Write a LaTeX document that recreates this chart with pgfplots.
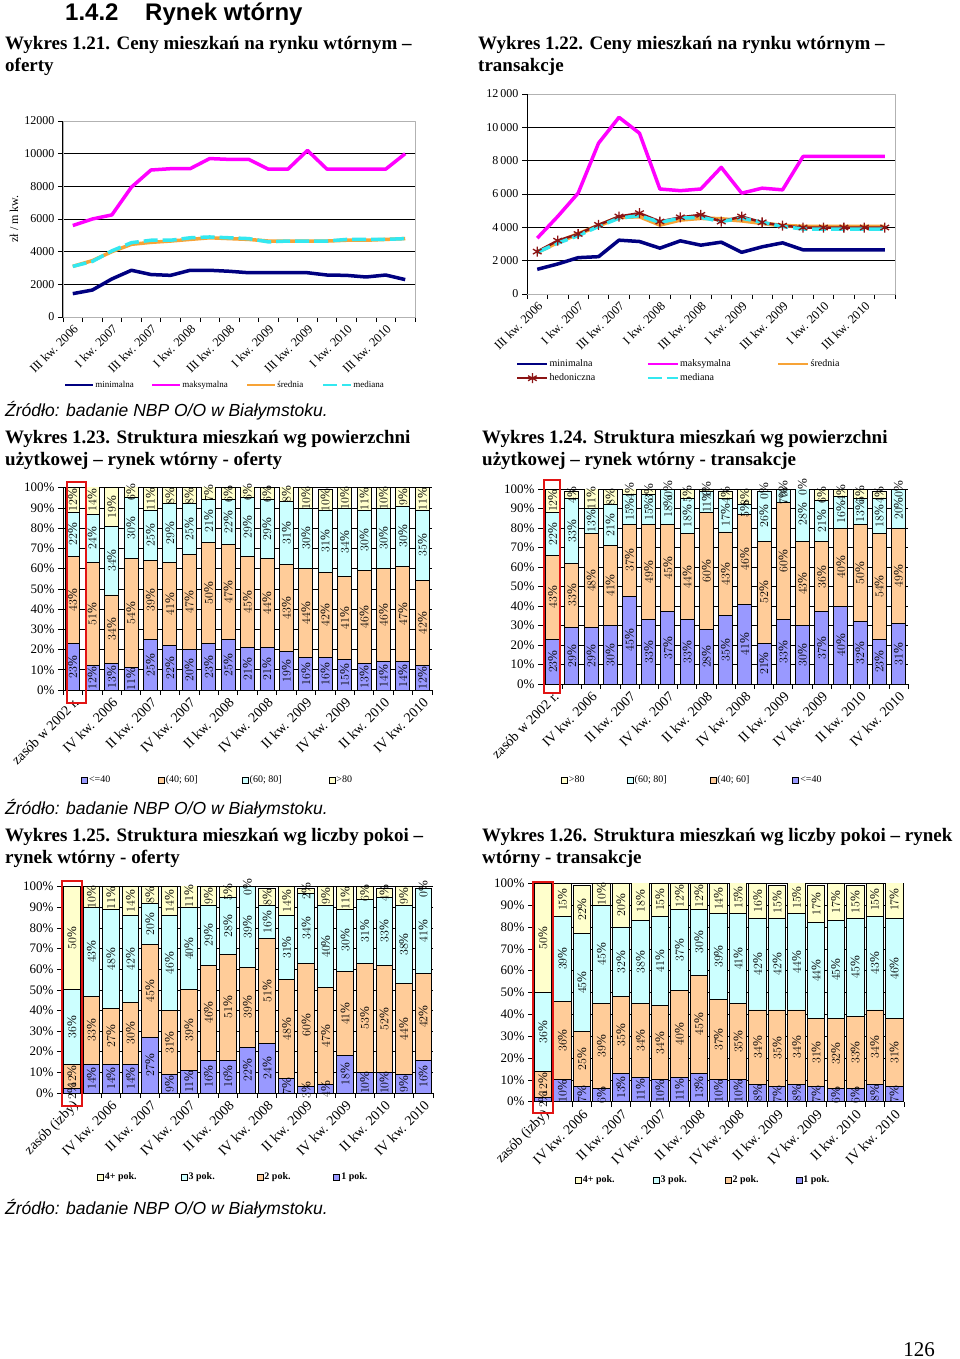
\documentclass[border=0pt]{standalone}
\usepackage{fontspec}
\setmainfont{Liberation Serif}
\newfontfamily\arial{Liberation Sans}
\usepackage{pgfplots}
\usepackage{pgfplotstable}
\pgfplotsset{compat=1.18}

\definecolor{cnavy}{RGB}{0,0,128}
\definecolor{cmag}{RGB}{255,0,255}
\definecolor{corng}{RGB}{247,163,54}
\definecolor{ccyan}{RGB}{51,232,240}
\definecolor{ched}{RGB}{140,20,20}
\definecolor{cP}{RGB}{153,153,255}
\definecolor{cO}{RGB}{255,204,153}
\definecolor{cC}{RGB}{204,255,255}
\definecolor{cY}{RGB}{255,255,204}
\definecolor{cRed}{RGB}{225,20,20}

\pgfplotstableread{
x mn mx sr md
0 1430 5600 3100 3100
1 1650 6000 3450 3400
2 2330 6250 4000 4050
3 2860 7950 4450 4550
4 2600 9000 4570 4700
5 2550 9080 4650 4700
6 2860 9080 4750 4850
7 2860 9700 4850 4900
8 2800 9650 4800 4850
9 2710 9650 4750 4800
10 2710 9050 4650 4600
11 2710 9050 4650 4650
12 2710 10200 4650 4650
13 2570 9050 4650 4650
14 2550 9050 4700 4750
15 2450 9050 4700 4750
16 2570 9050 4750 4750
17 2290 10000 4800 4800
}\tA

\pgfplotstableread{
x mn mx sr hd md
0 1480 3350 2500 2545 2500
1 1800 4650 3100 3200 3050
2 2180 6050 3600 3600 3500
3 2240 9050 4100 4150 4050
4 3230 10600 4600 4650 4550
5 3150 9650 4650 4850 4700
6 2750 6300 4150 4350 4300
7 3190 6200 4450 4600 4550
8 2930 6300 4550 4750 4600
9 3110 7600 4500 4350 4350
10 2500 6050 4400 4650 4550
11 2830 6350 4250 4300 4300
12 3070 6250 4100 4100 4050
13 2650 8250 4050 3990 3900
14 2650 8250 4050 3990 3900
15 2650 8250 4050 3990 3900
16 2650 8250 4050 3990 3900
17 2650 8250 4050 3990 3900
}\tB

\pgfplotstableread{
x a b c d
0 23 43 22 12
1 12 51 24 14
2 13 34 34 19
3 11 54 30 6
4 25 39 25 11
5 22 41 29 8
6 20 47 25 8
7 23 50 21 7
8 25 47 22 6
9 21 45 29 6
10 21 44 29 6
11 19 43 31 8
12 16 44 30 10
13 16 42 31 10
14 15 41 34 10
15 13 46 30 11
16 14 46 30 10
17 14 47 30 9
18 12 42 35 11
}\tC

\pgfplotstableread{
x a b c d
0 23 43 22 12
1 29 33 33 4
2 29 48 13 11
3 30 41 21 8
4 45 37 15 4
5 33 49 15 3
6 37 45 18 0
7 33 44 18 5
8 28 60 11 1
9 35 43 17 4
10 41 46 5 8
11 21 52 26 0
12 33 60 7 0
13 30 43 28 0
14 37 36 21 6
15 40 40 16 4
16 32 50 13 5
17 23 54 18 4
18 31 49 20 0
}\tD

\pgfplotstableread{
x a b c d
0 2 12 36 50
1 14 33 43 10
2 14 27 48 11
3 14 30 42 14
4 27 45 20 8
5 9 31 46 14
6 11 39 40 11
7 16 46 29 9
8 16 51 28 5
9 22 39 39 0
10 24 51 16 8
11 7 48 31 14
12 3 60 34 2
13 4 47 40 9
14 18 41 30 11
15 10 53 31 6
16 10 52 33 4
17 9 44 38 9
18 16 42 41 0
}\tE

\pgfplotstableread{
x a b c d
0 2 12 36 50
1 10 36 39 15
2 7 25 45 22
3 6 39 45 10
4 13 35 32 20
5 11 34 38 18
6 10 34 41 15
7 11 40 37 12
8 13 45 30 12
9 10 37 39 14
10 10 35 41 15
11 8 34 42 16
12 7 35 42 15
13 8 34 44 15
14 7 31 44 17
15 6 32 45 17
16 6 33 45 15
17 8 34 43 15
18 7 31 46 17
}\tF

\pgfplotsset{
  linechart/.style={
    scale only axis, anchor=north west, clip=false,
    xmin=-0.5, xmax=17.5, ymin=0, ymax=12000,
    scaled y ticks=false,
    ytick={0,2000,4000,6000,8000,10000,12000},
    xtick={0,2,4,6,8,10,12,14,16},
    xticklabels={III kw. 2006, I kw. 2007, III kw. 2007, I kw. 2008, III kw. 2008, I kw. 2009, III kw. 2009, I kw. 2010, III kw. 2010},
    minor xtick={-0.5,0.5,...,17.5},
    major x tick style={draw=none},
    tick align=outside, tick pos=left,
    major tick length=5pt, minor tick length=5pt,
    tick style={black, line width=0.6pt},
    ymajorgrids, grid style={black, line width=0.9pt},
    axis line style={gray!60, line width=0.8pt},
    x tick label style={rotate=45, anchor=north east, inner sep=1pt, font=\fontsize{12.5}{12.5}\selectfont},
    y tick label style={font=\fontsize{12}{12}\selectfont},
    legend style={draw=none, fill=none, inner sep=0pt, nodes={inner sep=1pt}, cells={anchor=west}, anchor=west},
  },
  barchart/.style={
    scale only axis, anchor=north west, ybar stacked,
    xmin=-0.5, xmax=18.5, ymin=0, ymax=100,
    ytick={0,10,20,30,40,50,60,70,80,90,100},
    yticklabels={0\%,10\%,20\%,30\%,40\%,50\%,60\%,70\%,80\%,90\%,100\%},
    xtick={0,2,4,6,8,10,12,14,16,18},
    minor xtick={-0.5,0.5,...,18.5},
    major x tick style={draw=none},
    axis x line=bottom, axis y line=left, axis line style={-, black, line width=0.8pt},
    tick align=outside, major tick length=5pt, minor tick length=5pt,
    tick style={black, line width=0.6pt},
    ymajorgrids, grid style={black, line width=0.6pt},
    x tick label style={rotate=45, anchor=north east, inner sep=1pt, font=\fontsize{14}{14}\selectfont},
    y tick label style={font=\fontsize{13}{13}\selectfont},
    legend image code/.code={\draw[#1, draw=black, line width=0.8pt] (0pt,-3pt) rectangle (6pt,3pt);},
    legend style={draw=none, fill=none, inner sep=0pt, nodes={inner sep=1pt}, cells={anchor=west}, legend columns=4, font=\fontsize{10}{10}\selectfont, anchor=west},
  },
  barlabels/.style={scale only axis, anchor=north west, xmin=-0.5, xmax=18.5, ymin=0, ymax=100, hide axis, clip=false},
  lab/.style={draw=none, mark=none, nodes near coords={\pgfmathprintnumber{\pgfplotspointmeta}\%}, point meta=explicit,
    every node near coord/.style={rotate=90, anchor=center, inner sep=0pt, font=\fontsize{13}{13}\selectfont}},
  bseg/.style={fill=#1, draw=black, line width=0.8pt},
}

\begin{document}
\begin{tikzpicture}
\fill[white] (0pt,0pt) rectangle (960pt,-1359pt);
\path[use as bounding box] (0pt,0pt) rectangle (960pt,-1359pt);

% ---------- texts ----------
\node[anchor=base west, inner sep=0pt, font=\arial\bfseries\fontsize{24}{24}\selectfont] at (65pt,-21pt) {1.4.2};
\node[anchor=base west, inner sep=0pt, font=\arial\bfseries\fontsize{24}{24}\selectfont] at (145pt,-21pt) {Rynek wtórny};

\begin{scope}[every node/.style={anchor=base west, inner sep=0pt, font=\bfseries\fontsize{19}{22}\selectfont}]
\node at (5pt,-50pt) {Wykres 1.21. Ceny mieszkań na rynku wtórnym –};
\node at (5pt,-72pt) {oferty};
\node at (478pt,-50pt) {Wykres 1.22. Ceny mieszkań na rynku wtórnym –};
\node at (478pt,-72pt) {transakcje};
\node at (5pt,-443pt) {Wykres 1.23. Struktura mieszkań wg powierzchni};
\node at (5pt,-465pt) {użytkowej – rynek wtórny - oferty};
\node at (482pt,-443pt) {Wykres 1.24. Struktura mieszkań wg powierzchni};
\node at (482pt,-465pt) {użytkowej – rynek wtórny - transakcje};
\node at (5pt,-841pt) {Wykres 1.25. Struktura mieszkań wg liczby pokoi –};
\node at (5pt,-863pt) {rynek wtórny - oferty};
\node at (482pt,-841pt) {Wykres 1.26. Struktura mieszkań wg liczby pokoi – rynek};
\node at (482pt,-863pt) {wtórny - transakcje};
\end{scope}
\begin{scope}[every node/.style={anchor=base west, inner sep=0pt, font=\arial\itshape\fontsize{17.5}{20}\selectfont}]
\node at (5pt,-416pt) {Źródło: badanie NBP O/O w Białymstoku.};
\node at (5pt,-814pt) {Źródło: badanie NBP O/O w Białymstoku.};
\node at (5pt,-1214pt) {Źródło: badanie NBP O/O w Białymstoku.};
\end{scope}
\node[anchor=base east, inner sep=0pt, font=\fontsize{21}{21}\selectfont] at (935pt,-1356pt) {126};

% ---------- Wykres 1.21 ----------
\begin{axis}[linechart, at={(63pt,-121pt)}, width=352pt, height=196pt,
  yticklabels={0,2000,4000,6000,8000,10000,12000},
  ylabel={zł / m kw.},
  every axis y label/.style={at={(axis description cs:-0.139,0.5)}, rotate=90, anchor=center, font=\fontsize{12}{12}\selectfont},
  legend columns=4,
  legend style={at={(0.003,-0.347)}, font=\fontsize{9}{9}\selectfont},
  legend image code/.code={\draw[#1, line width=2pt] (0pt,0pt) -- (28pt,0pt);},
  line join=round]
\addplot[cnavy, line width=3.5pt] table[x=x,y=mn]{\tA};
\addlegendentry{\makebox[55pt][l]{minimalna}}
\addplot[cmag, line width=3.5pt] table[x=x,y=mx]{\tA};
\addlegendentry{\makebox[63pt][l]{maksymalna}}
\addplot[corng, line width=3.5pt] table[x=x,y=sr]{\tA};
\addlegendentry{\makebox[44pt][l]{średnia}}
\addplot[ccyan, line width=3.5pt, dash pattern=on 14pt off 5pt] table[x=x,y=md]{\tA};
\addlegendentry{\makebox[40pt][l]{mediana}}
\draw[black, line width=1pt] (rel axis cs:0,0) -- (rel axis cs:0,1);
\end{axis}

% ---------- Wykres 1.22 ----------
\begin{axis}[linechart, at={(527pt,-94pt)}, width=368pt, height=200pt,
  yticklabels={0,2\,000,4\,000,6\,000,8\,000,10\,000,12\,000},
  legend columns=3,
  legend style={at={(-0.03,-0.385)}, font=\fontsize{10}{10}\selectfont, row sep=4pt},
  legend image code/.code={\draw[mark repeat=2, mark phase=2, #1, line width=2.5pt] plot coordinates {(0pt,0pt) (15pt,0pt) (30pt,0pt)};},
  line join=round]
\addplot[cnavy, line width=3.5pt] table[x=x,y=mn]{\tB};
\addlegendentry{\makebox[96pt][l]{minimalna}}
\addplot[cmag, line width=3.5pt] table[x=x,y=mx]{\tB};
\addlegendentry{\makebox[96pt][l]{maksymalna}}
\addplot[corng, line width=4pt] table[x=x,y=sr]{\tB};
\addlegendentry{\makebox[96pt][l]{średnia}}
\addplot[ched, line width=2.5pt, mark=asterisk, mark size=5pt, mark options={solid, line width=1.3pt, ched}] table[x=x,y=hd]{\tB};
\addlegendentry{\makebox[96pt][l]{hedoniczna}}
\addplot[ccyan, line width=3.5pt, dash pattern=on 14pt off 5pt] table[x=x,y=md]{\tB};
\addlegendentry{\makebox[96pt][l]{mediana}}
\draw[black, line width=1pt] (rel axis cs:0,0) -- (rel axis cs:0,1);
\end{axis}

% ---------- Wykres 1.23 ----------
\begin{axis}[barchart, at={(63pt,-487.7pt)}, width=369pt, height=202.3pt, bar width=14pt,
  xticklabels={zasób w 2002 r., IV kw. 2006, II kw. 2007, IV kw. 2007, II kw. 2008, IV kw. 2008, II kw. 2009, IV kw. 2009, II kw. 2010, IV kw. 2010},
  legend style={at={(0.049,-0.446)}}]
\addplot[bseg=cP] table[x=x,y=a]{\tC}; \addlegendentry{\makebox[68pt][l]{<=40}}
\addplot[bseg=cO] table[x=x,y=b]{\tC}; \addlegendentry{\makebox[75pt][l]{(40; 60]}}
\addplot[bseg=cC] table[x=x,y=c]{\tC}; \addlegendentry{\makebox[78pt][l]{(60; 80]}}
\addplot[bseg=cY] table[x=x,y=d]{\tC}; \addlegendentry{\makebox[20pt][l]{>80}}
\end{axis}
\begin{axis}[barlabels, at={(63pt,-487.7pt)}, width=369pt, height=202.3pt]
\addplot[lab] table[x=x, y expr={\thisrow{a}/2}, meta=a]{\tC};
\addplot[lab] table[x=x, y expr={\thisrow{a}+\thisrow{b}/2}, meta=b]{\tC};
\addplot[lab] table[x=x, y expr={\thisrow{a}+\thisrow{b}+\thisrow{c}/2}, meta=c]{\tC};
\addplot[lab] table[x=x, y expr={\thisrow{a}+\thisrow{b}+\thisrow{c}+\thisrow{d}/2}, meta=d]{\tC};
\end{axis}

% ---------- Wykres 1.24 ----------
\begin{axis}[barchart, at={(543pt,-489pt)}, width=365pt, height=195pt, bar width=14pt,
  xticklabels={zasób w 2002 r., IV kw. 2006, II kw. 2007, IV kw. 2007, II kw. 2008, IV kw. 2008, II kw. 2009, IV kw. 2009, II kw. 2010, IV kw. 2010},
  reverse legend,
  legend style={at={(0.049,-0.492)}}]
\addplot[bseg=cP] table[x=x,y=a]{\tD}; \addlegendentry{\makebox[25pt][l]{<=40}}
\addplot[bseg=cO] table[x=x,y=b]{\tD}; \addlegendentry{\makebox[74pt][l]{(40; 60]}}
\addplot[bseg=cC] table[x=x,y=c]{\tD}; \addlegendentry{\makebox[74pt][l]{(60; 80]}}
\addplot[bseg=cY] table[x=x,y=d]{\tD}; \addlegendentry{\makebox[57pt][l]{>80}}
\end{axis}
\begin{axis}[barlabels, at={(543pt,-489pt)}, width=365pt, height=195pt]
\addplot[lab] table[x=x, y expr={\thisrow{a}/2}, meta=a]{\tD};
\addplot[lab] table[x=x, y expr={\thisrow{a}+\thisrow{b}/2}, meta=b]{\tD};
\addplot[lab] table[x=x, y expr={\thisrow{a}+\thisrow{b}+\thisrow{c}/2}, meta=c]{\tD};
\addplot[lab] table[x=x, y expr={\thisrow{a}+\thisrow{b}+\thisrow{c}+\thisrow{d}/2}, meta=d]{\tD};
\end{axis}

% ---------- Wykres 1.25 ----------
\begin{axis}[barchart, at={(62pt,-886.7pt)}, width=371pt, height=206.3pt, bar width=16.5pt,
  xticklabels={zasób (izby), IV kw. 2006, II kw. 2007, IV kw. 2007, II kw. 2008, IV kw. 2008, II kw. 2009, IV kw. 2009, II kw. 2010, IV kw. 2010},
  reverse legend,
  legend style={at={(0.094,-0.408)}}]
\addplot[bseg=cP] table[x=x,y=a]{\tE}; \addlegendentry{\makebox[30pt][l]{\textbf{1 pok.}}}
\addplot[bseg=cO] table[x=x,y=b]{\tE}; \addlegendentry{\makebox[68pt][l]{\textbf{2 pok.}}}
\addplot[bseg=cC] table[x=x,y=c]{\tE}; \addlegendentry{\makebox[67pt][l]{\textbf{3 pok.}}}
\addplot[bseg=cY] table[x=x,y=d]{\tE}; \addlegendentry{\makebox[75pt][l]{\textbf{4+ pok.}}}
\end{axis}
\begin{axis}[barlabels, at={(62pt,-886.7pt)}, width=371pt, height=206.3pt]
\addplot[lab] table[x=x, y expr={\thisrow{a}/2}, meta=a]{\tE};
\addplot[lab] table[x=x, y expr={\thisrow{a}+\thisrow{b}/2}, meta=b]{\tE};
\addplot[lab] table[x=x, y expr={\thisrow{a}+\thisrow{b}+\thisrow{c}/2}, meta=c]{\tE};
\addplot[lab] table[x=x, y expr={\thisrow{a}+\thisrow{b}+\thisrow{c}+\thisrow{d}/2}, meta=d]{\tE};
\end{axis}

% ---------- Wykres 1.26 ----------
\begin{axis}[barchart, at={(533pt,-883.3pt)}, width=371pt, height=218.4pt, bar width=17.5pt,
  xticklabels={zasób (izby), IV kw. 2006, II kw. 2007, IV kw. 2007, II kw. 2008, IV kw. 2008, II kw. 2009, IV kw. 2009, II kw. 2010, IV kw. 2010},
  reverse legend,
  legend style={at={(0.113,-0.358)}}]
\addplot[bseg=cP] table[x=x,y=a]{\tF}; \addlegendentry{\makebox[30pt][l]{\textbf{1 pok.}}}
\addplot[bseg=cO] table[x=x,y=b]{\tF}; \addlegendentry{\makebox[62pt][l]{\textbf{2 pok.}}}
\addplot[bseg=cC] table[x=x,y=c]{\tF}; \addlegendentry{\makebox[63pt][l]{\textbf{3 pok.}}}
\addplot[bseg=cY] table[x=x,y=d]{\tF}; \addlegendentry{\makebox[69pt][l]{\textbf{4+ pok.}}}
\end{axis}
\begin{axis}[barlabels, at={(533pt,-883.3pt)}, width=371pt, height=218.4pt]
\addplot[lab] table[x=x, y expr={\thisrow{a}/2}, meta=a]{\tF};
\addplot[lab] table[x=x, y expr={\thisrow{a}+\thisrow{b}/2}, meta=b]{\tF};
\addplot[lab] table[x=x, y expr={\thisrow{a}+\thisrow{b}+\thisrow{c}/2}, meta=c]{\tF};
\addplot[lab] table[x=x, y expr={\thisrow{a}+\thisrow{b}+\thisrow{c}+\thisrow{d}/2}, meta=d]{\tF};
\end{axis}

% red highlight frames
\draw[cRed, line width=2.8pt] (67pt,-482pt) rectangle (86pt,-703pt);
\draw[cRed, line width=2.8pt] (544pt,-480pt) rectangle (560pt,-693pt);
\draw[cRed, line width=2.8pt] (62pt,-881pt) rectangle (82pt,-1106pt);
\draw[cRed, line width=2.8pt] (533pt,-882pt) rectangle (553pt,-1113pt);
\end{tikzpicture}
\end{document}
